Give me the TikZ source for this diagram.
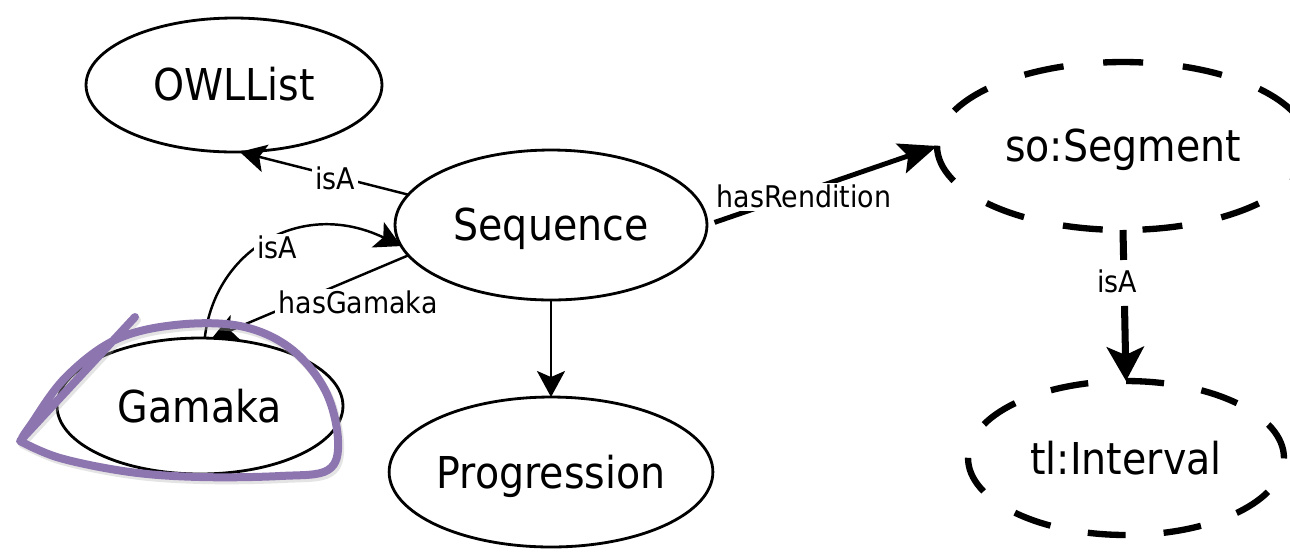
\documentclass[tikz,border=0pt]{standalone}
\usepackage{fontspec}
\setmainfont{DejaVu Sans}[FakeStretch=0.9]
\usetikzlibrary{shapes.geometric,arrows.meta}
\definecolor{hilite}{RGB}{141,117,176}
\begin{document}
\begin{tikzpicture}[x=0.02cm,y=-0.02cm,
  cls/.style={ellipse, draw, fill=white, line width=1.6pt, inner sep=0pt, outer sep=0pt,
    font=\fontsize{25}{30}\selectfont, text height=18.2pt, text depth=0pt},
  ext/.style={cls, line width=3.6pt},
  lbl/.style={fill=white, inner sep=2pt, font=\fontsize{17}{20}\selectfont,
    text height=12.4pt, text depth=0pt},
  rel/.style={line width=1.4pt, -{Stealth[length=0.52cm,width=0.56cm,inset=0.12cm]}},
  bigrel/.style={line width=2.8pt, -{Stealth[length=0.76cm,width=0.62cm,inset=0.15cm]}},
  extrel/.style={line width=4pt, -{Stealth[length=0.68cm,width=0.74cm,inset=0.16cm]}},
  ring/.style={draw=hilite, line width=0.16cm, line cap=round, line join=round}
]
\clip (0,0) rectangle (1290,552);
\fill[white] (0,0) rectangle (1290,552);

% classes
\node[cls, minimum width=5.92cm, minimum height=2.68cm] (owl)  at (234,85)  {OWLList};
\node[cls, minimum width=6.24cm, minimum height=3.0cm]  (seq)  at (551,225) {Sequence};
\node[cls, minimum width=5.72cm, minimum height=2.72cm] (gam)  at (200,406) {Gamaka};
\node[cls, minimum width=6.4cm,  minimum height=3.0cm]  (prog) at (551,472) {Progression};

% external classes (dashed outlines)
\node[ext, dash pattern=on 0.8cm off 0.797cm, dash phase=0.8cm,
      minimum width=7.44cm, minimum height=3.36cm] (seg) at (1123,146) {so:Segment};
\node[ext, dash pattern=on 0.76cm off 0.76cm,
      minimum width=6.32cm, minimum height=3.08cm] (int) at (1126,458) {tl:Interval};

% relations
\draw[rel] (seq.168) -- (owl.-85);
\draw[rel] (gam.86) .. controls +(10,-88) and +(-100,-48) .. (seq.188);
\draw[rel] (seq.192) -- (gam.80);
\draw[rel] (seq.south) -- (prog.north);
\draw[bigrel, shorten <=0.16cm] (seq.east) -- (seg.west);
\draw[extrel, dash pattern=on 0.6cm off 0.92cm on 2.6cm] (seg.south) -- (int.north);

% relation labels
\node[lbl] (l1) at (335,179) {isA};
\node[lbl] (l2) at (277,248) {isA};
\node[lbl] (l3) at (358,303) {hasGamaka};
\node[lbl] (l4) at (804,197) {hasRendition};
\node[lbl] (l5) at (1117,282) {isA};

% hand-drawn highlight around Gamaka
\draw[ring, draw=black!30, opacity=0.35, shift={(2,3)}]
  (135,317) -- plot[smooth, tension=0.6] coordinates {(20,441) (60,458) (130,472) (200,477)
  (280,476) (328,470) (338,440) (325,390) (290,348) (240,326) (175,325) (115,340) (65,378)
  (30,426) (22,438)};
\draw[ring]
  (135,317) -- plot[smooth, tension=0.6] coordinates {(20,441) (60,458) (130,472) (200,477)
  (280,476) (328,470) (338,440) (325,390) (290,348) (240,326) (175,325) (115,340) (65,378)
  (30,426) (22,438)};
\end{tikzpicture}
\end{document}
